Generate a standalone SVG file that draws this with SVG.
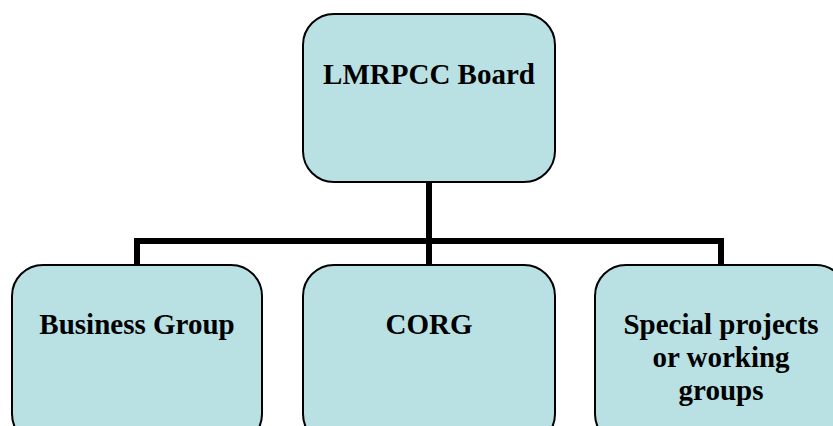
<svg xmlns="http://www.w3.org/2000/svg" width="833" height="426" viewBox="0 0 833 426">
<style>
.box{fill:#B9E0E3;stroke:#000;stroke-width:2}
.lbl{font-family:"Liberation Serif","Times New Roman",serif;font-weight:bold;font-size:29px;fill:#000;text-anchor:middle}
.conn{fill:none;stroke:#000;stroke-width:6}
</style>
<rect width="833" height="426" fill="#fff"/>
<g id="connectors">
<path class="conn" d="M429 182V241"/>
<path class="conn" d="M137 241H721"/>
<path class="conn" d="M137 238V266M429 241V266M721 238V266"/>
</g>
<g id="board">
<rect class="box" x="303" y="14" width="252" height="168" rx="31" ry="31"/>
<text class="lbl" x="429" y="84">LMRPCC Board</text>
</g>
<g id="business">
<rect class="box" x="12" y="265" width="250" height="180" rx="31" ry="31"/>
<text class="lbl" x="137" y="334">Business Group</text>
</g>
<g id="corg">
<rect class="box" x="303" y="265" width="252" height="180" rx="31" ry="31"/>
<text class="lbl" x="429" y="334">CORG</text>
</g>
<g id="special">
<rect class="box" x="595" y="265" width="252" height="180" rx="31" ry="31"/>
<text class="lbl" x="721" y="334">Special projects</text>
<text class="lbl" x="721" y="367">or working</text>
<text class="lbl" x="721" y="400">groups</text>
</g>
</svg>
